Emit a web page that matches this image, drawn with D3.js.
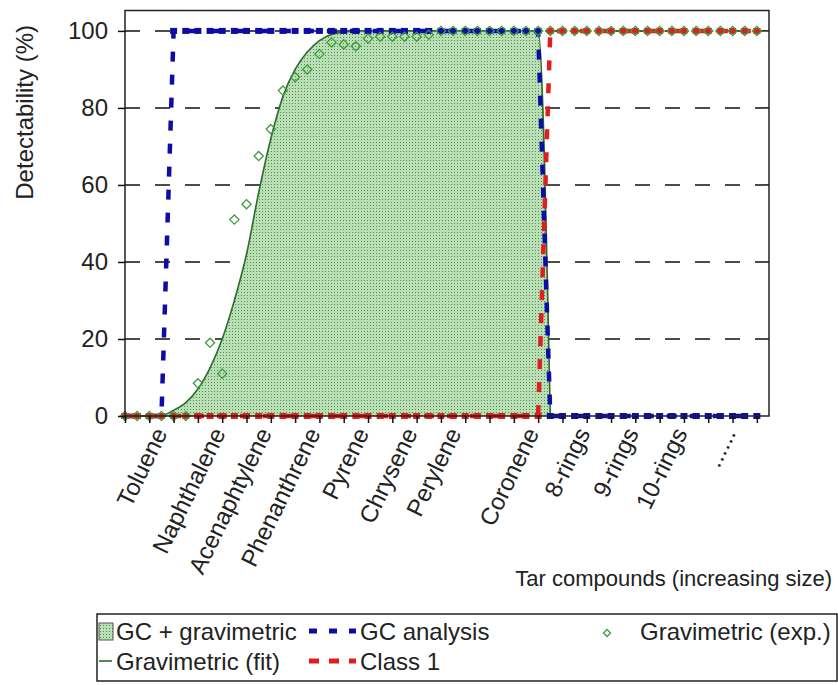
<!DOCTYPE html>
<html>
<head>
<meta charset="utf-8">
<script src="https://cdn.jsdelivr.net/npm/d3@7"></script>
<style>
  html, body { margin: 0; padding: 0; background: #fff; }
  svg { display: block; font-family: "Liberation Sans", Arial, sans-serif; }
</style>
</head>
<body>
<div id="chart"></div>
<script>
// compound size index (one point every half step)
const sizeIndex = [0, 0.5, 1, 1.5, 2, 2.5, 3, 3.5, 4, 4.5, 5, 5.5, 6, 6.5, 7, 7.5, 8, 8.5, 9, 9.5,
  10, 10.5, 11, 11.5, 12, 12.5, 13, 13.5, 14, 14.5, 15, 15.5, 16, 16.5, 17, 17.5, 18, 18.5, 19, 19.5,
  20, 20.5, 21, 21.5, 22, 22.5, 23, 23.5, 24, 24.5, 25, 25.5, 26];

const gcAnalysis = [0, 0, 0, 0, 100, 100, 100, 100, 100, 100, 100, 100, 100, 100, 100, 100, 100, 100, 100, 100,
  100, 100, 100, 100, 100, 100, 100, 100, 100, 100, 100, 100, 100, 100, 100, 0, 0, 0, 0, 0,
  0, 0, 0, 0, 0, 0, 0, 0, 0, 0, 0, 0, 0];

const class1 = [0, 0, 0, 0, 0, 0, 0, 0, 0, 0, 0, 0, 0, 0, 0, 0, 0, 0, 0, 0,
  0, 0, 0, 0, 0, 0, 0, 0, 0, 0, 0, 0, 0, 0, 0, 100, 100, 100, 100, 100,
  100, 100, 100, 100, 100, 100, 100, 100, 100, 100, 100, 100, 100];

const gravExp = [0, 0, 0, 0, 0, 0, 8.5, 19, 11, 51, 55, 67.5, 74.5, 84.5, 88, 90, 94, 97, 96.5, 96,
  98, 98.5, 98.5, 98.5, 98.5, 99, 100, 100, 100, 100, 100, 100, 100, 100, 100, 100, 100, 100, 100, 100,
  100, 100, 100, 100, 100, 100, 100, 100, 100, 100, 100, 100, 100];

// fitted curve
const fitX = [0, 1.4, 2, 2.5, 3, 3.5, 4, 4.5, 5, 5.5, 6, 6.5, 7, 7.5, 8, 8.6, 9.5, 17, 17.5];
const fitY = [0, 0, 1.5, 3.5, 7, 12.5, 20, 30, 42, 58, 72, 83, 90, 94.5, 97.5, 99.3, 100, 100, 0];

const compoundLabels = ["Toluene", "Naphthalene", "Acenaphtylene", "Phenanthrene", "Pyrene", "Chrysene",
  "Perylene", "Coronene", "8-rings", "9-rings", "10-rings", "......"];
const compoundPos = [1.6, 4, 5.9, 7.9, 9.9, 11.9, 13.7, 16.9, 19, 21, 23, 25];

const yTicks = [0, 20, 40, 60, 80, 100];

const width = 838;
const height = 685;
const fontSize = 24;

const svg = d3.select("#chart").append("svg")
  .attr("width", width)
  .attr("height", height);

const x = d3.scaleLinear().domain([0, 26.5]).range([125, 769]);
const y = d3.scaleLinear().domain([0, 105.3]).range([416, 10.5]);

// dotted green fill pattern
const defs = svg.append("defs");
const pat = defs.append("pattern")
  .attr("id", "dots")
  .attr("patternUnits", "userSpaceOnUse")
  .attr("width", 3).attr("height", 3);
pat.append("rect").attr("width", 3).attr("height", 3).attr("fill", "#b9e0b4");
pat.append("rect").attr("x", 1).attr("y", 1).attr("width", 1).attr("height", 1).attr("fill", "#5b875b");

// grid lines
svg.append("g")
  .selectAll("line")
  .data(yTicks.filter((d) => d > 0))
  .join("line")
  .attr("x1", x(0)).attr("x2", x(26.5))
  .attr("y1", (d) => y(d)).attr("y2", (d) => y(d))
  .attr("stroke", "#111")
  .attr("stroke-width", 1.5)
  .attr("stroke-dasharray", "15,15");

const fitPts = fitX.map((d, i) => [d, fitY[i]]);

svg.append("path")
  .datum(fitPts)
  .attr("fill", "url(#dots)")
  .attr("d", d3.area().x((d) => x(d[0])).y0(y(0)).y1((d) => y(d[1])).curve(d3.curveMonotoneX));

svg.append("path")
  .datum(fitPts)
  .attr("fill", "none")
  .attr("stroke", "#2d6a2d")
  .attr("stroke-width", 1.6)
  .attr("d", d3.line().x((d) => x(d[0])).y((d) => y(d[1])).curve(d3.curveMonotoneX));

function drawSeries(values, color) {
  const pts = sizeIndex.map((d, i) => [d, values[i]]);
  svg.append("path")
    .datum(pts)
    .attr("fill", "none")
    .attr("stroke", color)
    .attr("stroke-width", 4.5)
    .attr("stroke-dasharray", "10,13")
    .attr("d", d3.line().x((d) => x(d[0])).y((d) => y(d[1])));
  svg.append("g")
    .selectAll("rect")
    .data(pts)
    .join("rect")
    .attr("x", (d) => x(d[0]) - 3.5)
    .attr("y", (d) => y(d[1]) - 3)
    .attr("width", 7)
    .attr("height", 6)
    .attr("fill", color);
}

drawSeries(gcAnalysis, "#0d0da6");
drawSeries(class1, "#e01e1e");

// experimental points (open diamonds)
const diamondPath = (r) => `M0,${-r}L${r},0L0,${r}L${-r},0Z`;
svg.append("g")
  .selectAll("path")
  .data(sizeIndex.map((d, i) => [d, gravExp[i]]))
  .join("path")
  .attr("transform", (d) => `translate(${x(d[0])},${y(d[1])})`)
  .attr("d", diamondPath(4.6))
  .attr("fill", "none")
  .attr("stroke", "#3f9a3f")
  .attr("stroke-width", 1.3);

// frame
svg.append("rect")
  .attr("x", x(0)).attr("y", y(105.3))
  .attr("width", x(26.5) - x(0)).attr("height", y(0) - y(105.3))
  .attr("fill", "none")
  .attr("stroke", "#222")
  .attr("stroke-width", 1.5);

// y axis
const yAxis = svg.append("g")
  .attr("transform", `translate(${x(0)},0)`)
  .call(d3.axisLeft(y).tickValues(yTicks).tickSize(7).tickPadding(10));
yAxis.select(".domain").remove();
yAxis.selectAll("line").attr("stroke", "#111").attr("stroke-width", 1.5);
yAxis.selectAll("text").attr("font-size", fontSize).attr("font-family", null).attr("fill", "#222");

// x axis ticks
const xAxis = svg.append("g")
  .attr("transform", `translate(0,${y(0)})`)
  .call(d3.axisBottom(x).tickValues(d3.range(0, 27)).tickSize(7).tickFormat(""));
xAxis.select(".domain").remove();
xAxis.selectAll("line").attr("stroke", "#111").attr("stroke-width", 1.5);

// compound labels
svg.append("g")
  .selectAll("text")
  .data(compoundLabels)
  .join("text")
  .attr("transform", (d, i) => `translate(${x(compoundPos[i]) + 4},${433}) rotate(-64)`)
  .attr("text-anchor", "end")
  .attr("font-size", 24)
  .attr("fill", "#222")
  .text((d) => d);

svg.append("text")
  .attr("transform", "translate(33,25) rotate(-90)")
  .attr("text-anchor", "end")
  .attr("font-size", fontSize)
  .attr("fill", "#222")
  .text("Detectability (%)");

svg.append("text")
  .attr("x", 832).attr("y", 586)
  .attr("text-anchor", "end")
  .attr("font-size", 22)
  .attr("fill", "#222")
  .text("Tar compounds (increasing size)");

// legend
const legend = svg.append("g");
legend.append("rect")
  .attr("x", 97).attr("y", 614)
  .attr("width", 740).attr("height", 67)
  .attr("fill", "none")
  .attr("stroke", "#222")
  .attr("stroke-width", 1.5);

legend.append("rect")
  .attr("x", 99).attr("y", 623).attr("width", 14).attr("height", 17)
  .attr("fill", "url(#dots)").attr("stroke", "#555").attr("stroke-width", 1);
legend.append("line")
  .attr("x1", 99).attr("x2", 112).attr("y1", 661).attr("y2", 661)
  .attr("stroke", "#2d6a2d").attr("stroke-width", 1.6);
legend.append("line")
  .attr("x1", 309).attr("x2", 356).attr("y1", 631).attr("y2", 631)
  .attr("stroke", "#0d0da6").attr("stroke-width", 5).attr("stroke-dasharray", "8,12");
legend.append("line")
  .attr("x1", 309).attr("x2", 356).attr("y1", 661).attr("y2", 661)
  .attr("stroke", "#e01e1e").attr("stroke-width", 5).attr("stroke-dasharray", "10,10");
legend.append("path")
  .attr("transform", "translate(607,633)")
  .attr("d", diamondPath(3.5))
  .attr("fill", "none").attr("stroke", "#3f9a3f").attr("stroke-width", 1.3);

const legendText = [
  ["GC + gravimetric", 116, 640],
  ["GC analysis", 360, 640],
  ["Gravimetric (exp.)", 640, 640],
  ["Gravimetric (fit)", 116, 670],
  ["Class 1", 360, 670]
];
legend.selectAll("text.lt")
  .data(legendText)
  .join("text")
  .attr("class", "lt")
  .attr("x", (d) => d[1]).attr("y", (d) => d[2])
  .attr("font-size", fontSize)
  .attr("fill", "#222")
  .text((d) => d[0]);
</script>
</body>
</html>
